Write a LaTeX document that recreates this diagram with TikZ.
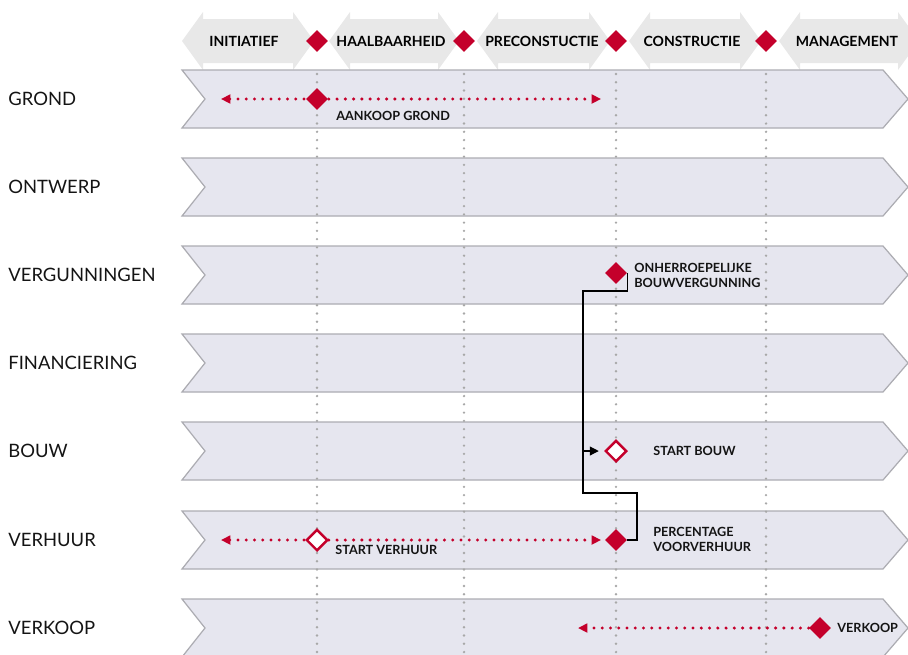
\documentclass[tikz,border=0pt]{standalone}
\usepackage{fontspec}
\setmainfont{Lato}
\usetikzlibrary{shapes.geometric, arrows.meta, positioning}
\definecolor{clrRed}{HTML}{C4002B}
\definecolor{clrLane}{HTML}{E6E6EF}
\definecolor{clrEdge}{HTML}{ACACB2}
\definecolor{clrPhase}{HTML}{E8E8E8}
\definecolor{clrGrid}{HTML}{A8A8A8}
\definecolor{clrText}{HTML}{141414}
\tikzset{
  lane/.style = {fill=clrLane, draw=clrEdge, line width=0.7pt},
  phase/.style = {fill=clrPhase},
  phasetext/.style = {font=\bfseries\fontsize{8}{9}\selectfont, text=black, inner sep=0},
  lanetext/.style = {anchor=west, font=\fontsize{10.5}{12}\selectfont, text=clrText, inner sep=0},
  note/.style = {anchor=west, align=left, font=\bfseries\fontsize{7.2}{8.6}\selectfont,
                 text=clrText, inner sep=0},
  milestone/.style = {diamond, fill=clrRed, minimum width=0.44cm, minimum height=0.44cm, inner sep=0},
  openmilestone/.style = {diamond, fill=white, draw=clrRed, line width=1.4pt,
                          minimum width=0.43cm, minimum height=0.43cm, inner sep=0},
  gridline/.style = {draw=clrGrid, line width=1.5pt, line cap=round, dash pattern=on 0pt off 4.7pt},
  span/.style = {draw=clrRed, line width=1.9pt, line cap=round, dash pattern=on 0pt off 4.7pt,
                 >={Triangle[length=5.3pt, width=5pt]}},
  link/.style = {draw=black, line width=0.6pt, >={Triangle[length=5pt, width=5pt]}},
}

\begin{document}
\begin{tikzpicture}[x=0.02cm, y=-0.02cm]
\useasboundingbox (0,0) rectangle (908,654);
\clip (0,0) rectangle (908,654);

% Phases along the top
\fill[phase] (182,41) -- ++(21,-29) -- ++(0,7) -- ++(90,0) -- ++(0,-7) -- ++(21,29)
  -- ++(-21,29) -- ++(0,-7) -- ++(-90,0) -- ++(0,7) -- cycle;
\fill[phase] (329,41) -- ++(21,-29) -- ++(0,7) -- ++(88,0) -- ++(0,-7) -- ++(21,29)
  -- ++(-21,29) -- ++(0,-7) -- ++(-88,0) -- ++(0,7) -- cycle;
\fill[phase] (477,41) -- ++(21,-29) -- ++(0,7) -- ++(91,0) -- ++(0,-7) -- ++(21,29)
  -- ++(-21,29) -- ++(0,-7) -- ++(-91,0) -- ++(0,7) -- cycle;
\fill[phase] (629,41) -- ++(21,-29) -- ++(0,7) -- ++(90,0) -- ++(0,-7) -- ++(21,29)
  -- ++(-21,29) -- ++(0,-7) -- ++(-90,0) -- ++(0,7) -- cycle;
\fill[phase] (779,41) -- ++(21,-29) -- ++(0,7) -- ++(98,0) -- ++(0,-7) -- ++(21,29)
  -- ++(-21,29) -- ++(0,-7) -- ++(-98,0) -- ++(0,7) -- cycle;

\node[phasetext] (initiatief) at (244,41) {INITIATIEF};
\node[phasetext] (haalbaar)   at (391,41) {HAALBAARHEID};
\node[phasetext] (precon)     at (542,41) {PRECONSTUCTIE};
\node[phasetext] (constructie) at (692,41) {CONSTRUCTIE};
\node[phasetext] (management) at (847,41) {MANAGEMENT};

\node[milestone] (gate1) at (317,41) {};
\node[milestone] (gate2) at (464,41) {};
\node[milestone] (gate3) at (616,41) {};
\node[milestone] (gate4) at (766,41) {};

% Lanes
\draw[lane] (182,70)  -- ++(701,0) -- ++(25,29) -- ++(-25,29) -- ++(-701,0) -- ++(23,-29) -- cycle;
\draw[lane] (182,158) -- ++(701,0) -- ++(25,29) -- ++(-25,29) -- ++(-701,0) -- ++(23,-29) -- cycle;
\draw[lane] (182,246) -- ++(701,0) -- ++(25,29) -- ++(-25,29) -- ++(-701,0) -- ++(23,-29) -- cycle;
\draw[lane] (182,334) -- ++(701,0) -- ++(25,29) -- ++(-25,29) -- ++(-701,0) -- ++(23,-29) -- cycle;
\draw[lane] (182,422) -- ++(701,0) -- ++(25,29) -- ++(-25,29) -- ++(-701,0) -- ++(23,-29) -- cycle;
\draw[lane] (182,511) -- ++(701,0) -- ++(25,29) -- ++(-25,29) -- ++(-701,0) -- ++(23,-29) -- cycle;
\draw[lane] (182,599) -- ++(701,0) -- ++(25,29) -- ++(-25,29) -- ++(-701,0) -- ++(23,-29) -- cycle;

\node[lanetext] (grond)     at (8,99)  {GROND};
\node[lanetext] (ontwerp)   at (8,187) {ONTWERP};
\node[lanetext] (vergunn)   at (8,275) {VERGUNNINGEN};
\node[lanetext] (financ)    at (8,363) {FINANCIERING};
\node[lanetext] (bouw)      at (8,451) {BOUW};
\node[lanetext] (verhuur)   at (8,540) {VERHUUR};
\node[lanetext] (verkoopl)  at (8,628) {VERKOOP};

% Phase borders
\draw[gridline] (gate1.south |- 0,74) -- (gate1.south |- 0,660);
\draw[gridline] (gate2.south |- 0,74) -- (gate2.south |- 0,660);
\draw[gridline] (gate3.south |- 0,74) -- (gate3.south |- 0,660);
\draw[gridline] (gate4.south |- 0,74) -- (gate4.south |- 0,660);

% Spans
\coordinate (grondL) at (221,99);
\coordinate (grondR) at (601,99);
\coordinate (huurL)  at (221,540);
\coordinate (huurR)  at (601,540);
\coordinate (koopL)  at (578,628);
\draw[span, <->] (grondL) -- (grondR);
\draw[span, <->] (huurL) -- (huurR);

% Milestones
\node[milestone]     (aankoop)     at (317,99)  {};
\node[milestone]     (vergunning)  at (616,273) {};
\node[openmilestone] (startbouw)   at (616,451) {};
\node[openmilestone] (startverhuur) at (317,540) {};
\node[milestone]     (voorverhuur) at (616,540) {};
\node[milestone]     (verkoop)     at (820,628) {};
\draw[span, ->] (verkoop.west) -- (koopL);

\node[note] (aankooptxt)  at (336,116) {AANKOOP GROND};
\node[note] (vergtxt)     at (634,275.5) {ONHERROEPELIJKE\\BOUWVERGUNNING};
\node[note] (bouwtxt)     at (653,451) {START BOUW};
\node[note] (huurtxt)     at (335,550) {START VERHUUR};
\node[note] (voortxt)     at (653,539.5) {PERCENTAGE\\VOORVERHUUR};
\node[note] (verkooptxt)  at (837,628) {VERKOOP};

% Dependencies
\coordinate (knik1) at (583,291);
\coordinate (knik2) at (637,493);
\draw[link] (vergunning.east) |- (knik1) |- (knik2) |- (voorverhuur.east);
\draw[link, ->, shorten >=3pt] (knik1 |- startbouw) -- (startbouw.west);
\end{tikzpicture}
\end{document}
